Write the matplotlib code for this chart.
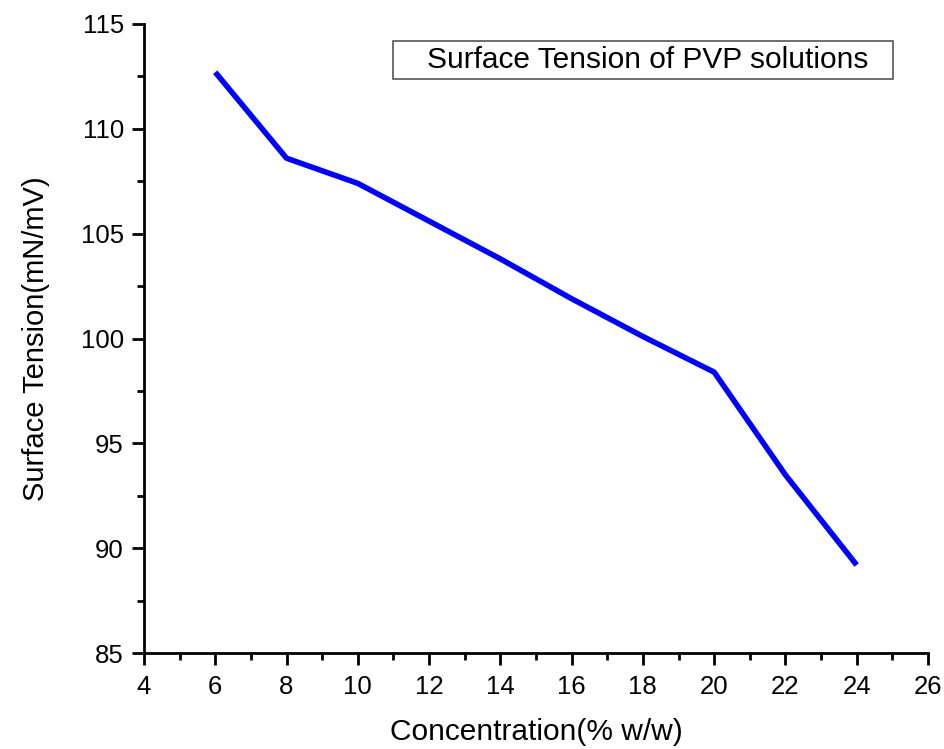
import matplotlib
matplotlib.use('Agg')
import matplotlib.pyplot as plt
from matplotlib.patches import Rectangle
from matplotlib.ticker import MultipleLocator

plt.rcParams['font.family'] = ['Liberation Sans', 'DejaVu Sans']

# 浓度与表面张力
concentration = [6, 8, 10, 12, 14, 16, 18, 20, 22, 24]
surface_tension = [112.7, 108.6, 107.4, 105.6, 103.8, 101.9, 100.1, 98.4, 93.5, 89.2]

fig = plt.figure(figsize=(9.44, 7.49), dpi=100)
ax = fig.add_axes([0.1525, 0.128, 0.8305, 0.84])

ax.plot(concentration, surface_tension, color='#0000ff', lw=4, solid_capstyle='butt')

ax.set_xlim(4, 26)
ax.set_ylim(85, 115)
ax.xaxis.set_major_locator(MultipleLocator(2))
ax.xaxis.set_minor_locator(MultipleLocator(1))
ax.yaxis.set_major_locator(MultipleLocator(5))
ax.yaxis.set_minor_locator(MultipleLocator(2.5))

for side in ['top', 'right']:
    ax.spines[side].set_visible(False)
for side in ['left', 'bottom']:
    ax.spines[side].set_linewidth(2)

ax.tick_params(which='major', direction='out', length=8.5, width=2, labelsize=18.5)
ax.tick_params(axis='y', which='major', pad=6)
ax.tick_params(axis='x', which='major', pad=7)
ax.tick_params(which='minor', direction='out', length=5, width=2)

ax.set_xlabel('Concentration(% w/w)', fontsize=21.5, labelpad=14)
ax.set_ylabel('Surface Tension(mN/mV)', fontsize=21, labelpad=22)

# 图例框
ax.add_patch(Rectangle((0.3176, 0.9126), 0.6374, 0.0604, transform=ax.transAxes,
                       facecolor='white', edgecolor='#555555', lw=1.2, zorder=5))
ax.text(0.361, 0.943, 'Surface Tension of PVP solutions', transform=ax.transAxes,
        fontsize=21.5, va='center', ha='left', zorder=6)

fig.savefig('out.png', dpi=100)
